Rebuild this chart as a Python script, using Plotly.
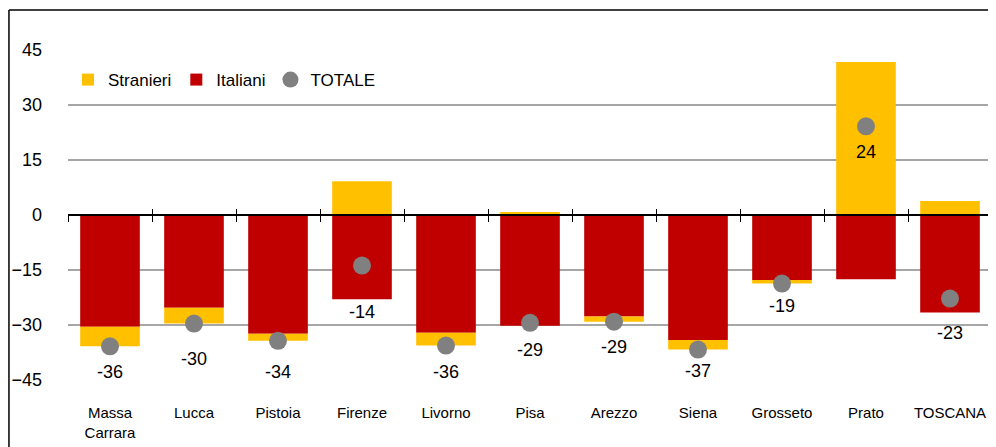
import plotly.graph_objects as go

categories = ["Massa<br>Carrara", "Lucca", "Pistoia", "Firenze", "Livorno", "Pisa",
              "Arezzo", "Siena", "Grosseto", "Prato", "TOSCANA"]
italiani = [-30.5, -25.3, -32.4, -23.0, -32.1, -30.2, -27.7, -34.1, -17.7, -17.5, -26.6]
stranieri = [-5.3, -4.3, -1.9, 9.2, -3.5, 0.8, -1.4, -2.6, -1.0, 41.7, 3.8]
totale = [-35.8, -29.6, -34.3, -13.8, -35.6, -29.4, -29.1, -36.7, -18.7, 24.2, -22.8]
totale_labels = ["-36", "-30", "-34", "-14", "-36", "-29", "-29", "-37", "-19", "24", "-23"]
y_ticks = [-45, -30, -15, 0, 15, 30, 45]

# style: pixel distance of each data label below its dot
label_offset_px = [26, 35, 31, 46, 26, 27, 25, 21, 22, 26, 34]

FONT = "Liberation Sans, Arial, sans-serif"

fig = go.Figure()
fig.add_trace(go.Bar(x=categories, y=italiani, name="Italiani", marker_color="#C00000",
                     marker_line_width=0, width=0.71, legendrank=2))
fig.add_trace(go.Bar(x=categories, y=stranieri, name="Stranieri", marker_color="#FFC000",
                     marker_line_width=0, width=0.71, legendrank=1))
fig.add_trace(go.Scatter(x=categories, y=totale, name="TOTALE", mode="markers",
                         marker=dict(color="#808080", size=18), legendrank=3))

for cat, val, lab, off in zip(categories, totale, totale_labels, label_offset_px):
    fig.add_annotation(x=cat, y=val, text=lab, showarrow=False, yshift=-off,
                       font=dict(size=18, color="#000000", family=FONT))

n = len(categories)
bounds = [i - 0.5 for i in range(n + 1)]

fig.update_layout(
    width=988, height=439,
    margin=dict(l=60, r=4, t=42, b=67, autoexpand=False),
    paper_bgcolor="white", plot_bgcolor="white",
    barmode="relative", bargap=0.29,
    font=dict(family=FONT, color="#000000"),
    legend=dict(orientation="h", x=0.0, y=0.909, xanchor="left", yanchor="middle",
                font=dict(size=17, family=FONT), bgcolor="rgba(0,0,0,0)",
                itemwidth=30, traceorder="normal"),
    xaxis=dict(type="category", range=[-0.5, n - 0.5], showgrid=False, showline=False,
               ticks="", tickfont=dict(size=15, family=FONT), ticklabelstandoff=22,
               zeroline=False, automargin=False),
    xaxis2=dict(overlaying="x", anchor="free", position=0.5, range=[-0.5, n - 0.5],
                tickvals=bounds, showticklabels=False, ticks="outside", ticklen=6,
                tickwidth=1.2, tickcolor="#000000", showline=True, linecolor="#000000",
                linewidth=2, showgrid=False, zeroline=False, automargin=False),
    xaxis3=dict(overlaying="x", anchor="free", position=0.5, range=[-0.5, n - 0.5],
                tickvals=bounds, showticklabels=False, ticks="inside", ticklen=6,
                tickwidth=1.2, tickcolor="#000000", showline=False, showgrid=False,
                zeroline=False, automargin=False),
    yaxis=dict(range=[-45, 45], tickvals=y_ticks, showgrid=True, gridcolor="#A6A6A6",
               gridwidth=1.5, zeroline=False, showline=False, ticks="",
               tickfont=dict(size=18, family=FONT), ticklabelstandoff=25, automargin=False),
)

# invisible traces so the overlay axes are drawn
fig.add_trace(go.Scatter(x=[0], y=[0], xaxis="x2", mode="markers", marker=dict(opacity=0),
                         showlegend=False, hoverinfo="skip"))
fig.add_trace(go.Scatter(x=[0], y=[0], xaxis="x3", mode="markers", marker=dict(opacity=0),
                         showlegend=False, hoverinfo="skip"))

# chart frame (partially cropped in reference)
fig.add_shape(type="line", xref="paper", yref="paper", x0=-0.0639, x1=-0.0639, y0=1.1212, y1=-0.3,
              line=dict(color="#000000", width=1.5))
fig.add_shape(type="line", xref="paper", yref="paper", x0=-0.0639, x1=1.1, y0=1.1212, y1=1.1212,
              line=dict(color="#000000", width=1.5))

fig.write_html("out.html")
